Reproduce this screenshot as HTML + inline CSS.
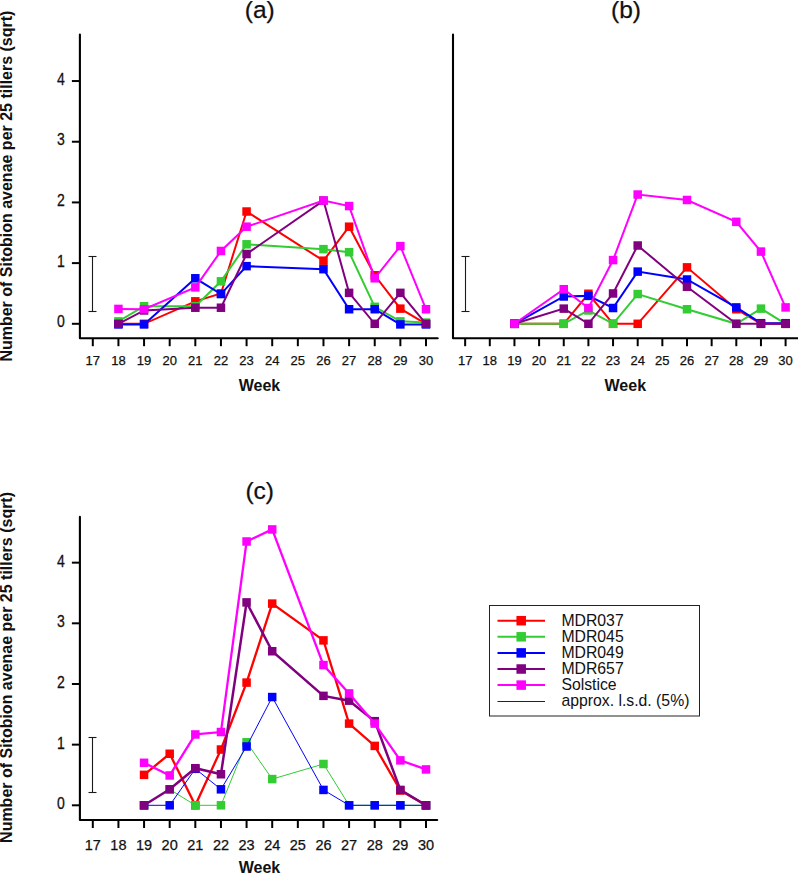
<!DOCTYPE html>
<html><head><meta charset="utf-8"><style>
html,body{margin:0;padding:0;background:#fff;width:798px;height:873px;overflow:hidden}
svg{display:block}
text{font-family:"Liberation Sans", sans-serif;fill:#111}
.tk,.tk2,.yt,.ti{stroke:#111;stroke-width:0.25px}
.tk{font-size:13px;text-anchor:middle}
.tk2{font-size:14.5px;text-anchor:middle}
.yt{font-size:14px;text-anchor:end}
.ti{font-size:24.5px;text-anchor:middle}
.wk{font-size:16px;font-weight:bold;text-anchor:middle}
.yl{font-size:16px;font-weight:bold;text-anchor:middle}
.lg{font-size:15.8px}
</style></head><body>
<svg width="798" height="873" viewBox="0 0 798 873">
<path d="M79.9,34.5 L79.9,338.2 L437.7,338.2" fill="none" stroke="#000" stroke-width="2.1" stroke-linejoin="round" stroke-linecap="round"/>
<line x1="92.80" y1="338.2" x2="92.80" y2="346.2" stroke="#000" stroke-width="2"/>
<text x="92.80" y="365.0" class="tk">17</text>
<line x1="118.43" y1="338.2" x2="118.43" y2="346.2" stroke="#000" stroke-width="2"/>
<text x="118.43" y="365.0" class="tk">18</text>
<line x1="144.06" y1="338.2" x2="144.06" y2="346.2" stroke="#000" stroke-width="2"/>
<text x="144.06" y="365.0" class="tk">19</text>
<line x1="169.69" y1="338.2" x2="169.69" y2="346.2" stroke="#000" stroke-width="2"/>
<text x="169.69" y="365.0" class="tk">20</text>
<line x1="195.32" y1="338.2" x2="195.32" y2="346.2" stroke="#000" stroke-width="2"/>
<text x="195.32" y="365.0" class="tk">21</text>
<line x1="220.95" y1="338.2" x2="220.95" y2="346.2" stroke="#000" stroke-width="2"/>
<text x="220.95" y="365.0" class="tk">22</text>
<line x1="246.58" y1="338.2" x2="246.58" y2="346.2" stroke="#000" stroke-width="2"/>
<text x="246.58" y="365.0" class="tk">23</text>
<line x1="272.21" y1="338.2" x2="272.21" y2="346.2" stroke="#000" stroke-width="2"/>
<text x="272.21" y="365.0" class="tk">24</text>
<line x1="297.84" y1="338.2" x2="297.84" y2="346.2" stroke="#000" stroke-width="2"/>
<text x="297.84" y="365.0" class="tk">25</text>
<line x1="323.47" y1="338.2" x2="323.47" y2="346.2" stroke="#000" stroke-width="2"/>
<text x="323.47" y="365.0" class="tk">26</text>
<line x1="349.10" y1="338.2" x2="349.10" y2="346.2" stroke="#000" stroke-width="2"/>
<text x="349.10" y="365.0" class="tk">27</text>
<line x1="374.73" y1="338.2" x2="374.73" y2="346.2" stroke="#000" stroke-width="2"/>
<text x="374.73" y="365.0" class="tk">28</text>
<line x1="400.36" y1="338.2" x2="400.36" y2="346.2" stroke="#000" stroke-width="2"/>
<text x="400.36" y="365.0" class="tk">29</text>
<line x1="425.99" y1="338.2" x2="425.99" y2="346.2" stroke="#000" stroke-width="2"/>
<text x="425.99" y="365.0" class="tk">30</text>
<line x1="71.9" y1="323.80" x2="79.9" y2="323.80" stroke="#000" stroke-width="2"/>
<text transform="translate(64.9,327.40) scale(1,1.15)" class="yt">0</text>
<line x1="71.9" y1="263.11" x2="79.9" y2="263.11" stroke="#000" stroke-width="2"/>
<text transform="translate(64.9,266.71) scale(1,1.15)" class="yt">1</text>
<line x1="71.9" y1="202.42" x2="79.9" y2="202.42" stroke="#000" stroke-width="2"/>
<text transform="translate(64.9,206.02) scale(1,1.15)" class="yt">2</text>
<line x1="71.9" y1="141.73" x2="79.9" y2="141.73" stroke="#000" stroke-width="2"/>
<text transform="translate(64.9,145.33) scale(1,1.15)" class="yt">3</text>
<line x1="71.9" y1="81.04" x2="79.9" y2="81.04" stroke="#000" stroke-width="2"/>
<text transform="translate(64.9,84.64) scale(1,1.15)" class="yt">4</text>
<g stroke="#1a1a1a" stroke-width="1.1"><line x1="92.50" y1="256.50" x2="92.50" y2="311.50"/><line x1="88.50" y1="256.50" x2="96.50" y2="256.50"/><line x1="88.50" y1="311.50" x2="96.50" y2="311.50"/></g>
<polyline points="118.43,323.80 144.06,323.80 195.32,301.34 220.95,293.46 246.58,211.52 323.47,260.68 349.10,226.70 374.73,275.25 400.36,308.63 425.99,323.80" fill="none" stroke="#ff0000" stroke-width="2" stroke-linejoin="miter"/>
<rect x="114.18" y="319.55" width="8.5" height="8.5" fill="#ff0000"/>
<rect x="139.81" y="319.55" width="8.5" height="8.5" fill="#ff0000"/>
<rect x="191.07" y="297.09" width="8.5" height="8.5" fill="#ff0000"/>
<rect x="216.70" y="289.21" width="8.5" height="8.5" fill="#ff0000"/>
<rect x="242.33" y="207.27" width="8.5" height="8.5" fill="#ff0000"/>
<rect x="319.22" y="256.43" width="8.5" height="8.5" fill="#ff0000"/>
<rect x="344.85" y="222.45" width="8.5" height="8.5" fill="#ff0000"/>
<rect x="370.48" y="271.00" width="8.5" height="8.5" fill="#ff0000"/>
<rect x="396.11" y="304.38" width="8.5" height="8.5" fill="#ff0000"/>
<rect x="421.74" y="319.55" width="8.5" height="8.5" fill="#ff0000"/>
<polyline points="118.43,321.37 144.06,306.20 195.32,306.20 220.95,281.32 246.58,244.30 323.47,249.15 349.10,252.19 374.73,306.81 400.36,321.37 425.99,322.59" fill="none" stroke="#33cc33" stroke-width="2" stroke-linejoin="miter"/>
<rect x="114.18" y="317.12" width="8.5" height="8.5" fill="#33cc33"/>
<rect x="139.81" y="301.95" width="8.5" height="8.5" fill="#33cc33"/>
<rect x="191.07" y="301.95" width="8.5" height="8.5" fill="#33cc33"/>
<rect x="216.70" y="277.07" width="8.5" height="8.5" fill="#33cc33"/>
<rect x="242.33" y="240.05" width="8.5" height="8.5" fill="#33cc33"/>
<rect x="319.22" y="244.90" width="8.5" height="8.5" fill="#33cc33"/>
<rect x="344.85" y="247.94" width="8.5" height="8.5" fill="#33cc33"/>
<rect x="370.48" y="302.56" width="8.5" height="8.5" fill="#33cc33"/>
<rect x="396.11" y="317.12" width="8.5" height="8.5" fill="#33cc33"/>
<rect x="421.74" y="318.34" width="8.5" height="8.5" fill="#33cc33"/>
<polyline points="118.43,324.41 144.06,324.41 195.32,278.28 220.95,294.06 246.58,266.14 323.47,269.18 349.10,309.23 374.73,309.23 400.36,324.41 425.99,324.41" fill="none" stroke="#0000ff" stroke-width="2" stroke-linejoin="miter"/>
<rect x="114.18" y="320.16" width="8.5" height="8.5" fill="#0000ff"/>
<rect x="139.81" y="320.16" width="8.5" height="8.5" fill="#0000ff"/>
<rect x="191.07" y="274.03" width="8.5" height="8.5" fill="#0000ff"/>
<rect x="216.70" y="289.81" width="8.5" height="8.5" fill="#0000ff"/>
<rect x="242.33" y="261.89" width="8.5" height="8.5" fill="#0000ff"/>
<rect x="319.22" y="264.93" width="8.5" height="8.5" fill="#0000ff"/>
<rect x="344.85" y="304.98" width="8.5" height="8.5" fill="#0000ff"/>
<rect x="370.48" y="304.98" width="8.5" height="8.5" fill="#0000ff"/>
<rect x="396.11" y="320.16" width="8.5" height="8.5" fill="#0000ff"/>
<rect x="421.74" y="320.16" width="8.5" height="8.5" fill="#0000ff"/>
<polyline points="118.43,323.80 144.06,310.45 195.32,307.72 220.95,307.72 246.58,254.01 323.47,200.60 349.10,292.85 374.73,323.80 400.36,292.85 425.99,323.80" fill="none" stroke="#800080" stroke-width="2" stroke-linejoin="miter"/>
<rect x="114.18" y="319.55" width="8.5" height="8.5" fill="#800080"/>
<rect x="139.81" y="306.20" width="8.5" height="8.5" fill="#800080"/>
<rect x="191.07" y="303.47" width="8.5" height="8.5" fill="#800080"/>
<rect x="216.70" y="303.47" width="8.5" height="8.5" fill="#800080"/>
<rect x="242.33" y="249.76" width="8.5" height="8.5" fill="#800080"/>
<rect x="319.22" y="196.35" width="8.5" height="8.5" fill="#800080"/>
<rect x="344.85" y="288.60" width="8.5" height="8.5" fill="#800080"/>
<rect x="370.48" y="319.55" width="8.5" height="8.5" fill="#800080"/>
<rect x="396.11" y="288.60" width="8.5" height="8.5" fill="#800080"/>
<rect x="421.74" y="319.55" width="8.5" height="8.5" fill="#800080"/>
<polyline points="118.43,308.93 144.06,309.23 195.32,287.39 220.95,250.97 246.58,226.70 323.47,200.60 349.10,206.06 374.73,278.28 400.36,246.12 425.99,309.23" fill="none" stroke="#ff00ff" stroke-width="2" stroke-linejoin="miter"/>
<rect x="114.18" y="304.68" width="8.5" height="8.5" fill="#ff00ff"/>
<rect x="139.81" y="304.98" width="8.5" height="8.5" fill="#ff00ff"/>
<rect x="191.07" y="283.14" width="8.5" height="8.5" fill="#ff00ff"/>
<rect x="216.70" y="246.72" width="8.5" height="8.5" fill="#ff00ff"/>
<rect x="242.33" y="222.45" width="8.5" height="8.5" fill="#ff00ff"/>
<rect x="319.22" y="196.35" width="8.5" height="8.5" fill="#ff00ff"/>
<rect x="344.85" y="201.81" width="8.5" height="8.5" fill="#ff00ff"/>
<rect x="370.48" y="274.03" width="8.5" height="8.5" fill="#ff00ff"/>
<rect x="396.11" y="241.87" width="8.5" height="8.5" fill="#ff00ff"/>
<rect x="421.74" y="304.98" width="8.5" height="8.5" fill="#ff00ff"/>
<path d="M453,34.5 L453,338.2 L798,338.2" fill="none" stroke="#000" stroke-width="2.1" stroke-linejoin="round" stroke-linecap="round"/>
<line x1="465.15" y1="338.2" x2="465.15" y2="346.2" stroke="#000" stroke-width="2"/>
<text x="465.15" y="365.0" class="tk">17</text>
<line x1="489.80" y1="338.2" x2="489.80" y2="346.2" stroke="#000" stroke-width="2"/>
<text x="489.80" y="365.0" class="tk">18</text>
<line x1="514.45" y1="338.2" x2="514.45" y2="346.2" stroke="#000" stroke-width="2"/>
<text x="514.45" y="365.0" class="tk">19</text>
<line x1="539.10" y1="338.2" x2="539.10" y2="346.2" stroke="#000" stroke-width="2"/>
<text x="539.10" y="365.0" class="tk">20</text>
<line x1="563.75" y1="338.2" x2="563.75" y2="346.2" stroke="#000" stroke-width="2"/>
<text x="563.75" y="365.0" class="tk">21</text>
<line x1="588.40" y1="338.2" x2="588.40" y2="346.2" stroke="#000" stroke-width="2"/>
<text x="588.40" y="365.0" class="tk">22</text>
<line x1="613.05" y1="338.2" x2="613.05" y2="346.2" stroke="#000" stroke-width="2"/>
<text x="613.05" y="365.0" class="tk">23</text>
<line x1="637.70" y1="338.2" x2="637.70" y2="346.2" stroke="#000" stroke-width="2"/>
<text x="637.70" y="365.0" class="tk">24</text>
<line x1="662.35" y1="338.2" x2="662.35" y2="346.2" stroke="#000" stroke-width="2"/>
<text x="662.35" y="365.0" class="tk">25</text>
<line x1="687.00" y1="338.2" x2="687.00" y2="346.2" stroke="#000" stroke-width="2"/>
<text x="687.00" y="365.0" class="tk">26</text>
<line x1="711.65" y1="338.2" x2="711.65" y2="346.2" stroke="#000" stroke-width="2"/>
<text x="711.65" y="365.0" class="tk">27</text>
<line x1="736.30" y1="338.2" x2="736.30" y2="346.2" stroke="#000" stroke-width="2"/>
<text x="736.30" y="365.0" class="tk">28</text>
<line x1="760.95" y1="338.2" x2="760.95" y2="346.2" stroke="#000" stroke-width="2"/>
<text x="760.95" y="365.0" class="tk">29</text>
<line x1="785.60" y1="338.2" x2="785.60" y2="346.2" stroke="#000" stroke-width="2"/>
<text x="785.60" y="365.0" class="tk">30</text>
<g stroke="#1a1a1a" stroke-width="1.1"><line x1="465.50" y1="256.50" x2="465.50" y2="311.50"/><line x1="461.50" y1="256.50" x2="469.50" y2="256.50"/><line x1="461.50" y1="311.50" x2="469.50" y2="311.50"/></g>
<polyline points="514.45,323.80 563.75,323.80 588.40,293.76 613.05,323.80 637.70,323.80 687.00,267.36 736.30,309.23 760.95,323.80 785.60,323.80" fill="none" stroke="#ff0000" stroke-width="2" stroke-linejoin="miter"/>
<rect x="510.20" y="319.55" width="8.5" height="8.5" fill="#ff0000"/>
<rect x="559.50" y="319.55" width="8.5" height="8.5" fill="#ff0000"/>
<rect x="584.15" y="289.51" width="8.5" height="8.5" fill="#ff0000"/>
<rect x="608.80" y="319.55" width="8.5" height="8.5" fill="#ff0000"/>
<rect x="633.45" y="319.55" width="8.5" height="8.5" fill="#ff0000"/>
<rect x="682.75" y="263.11" width="8.5" height="8.5" fill="#ff0000"/>
<rect x="732.05" y="304.98" width="8.5" height="8.5" fill="#ff0000"/>
<rect x="756.70" y="319.55" width="8.5" height="8.5" fill="#ff0000"/>
<rect x="781.35" y="319.55" width="8.5" height="8.5" fill="#ff0000"/>
<polyline points="514.45,323.80 563.75,323.80 588.40,310.45 613.05,323.80 637.70,294.06 687.00,309.23 736.30,323.80 760.95,308.63 785.60,323.80" fill="none" stroke="#33cc33" stroke-width="2" stroke-linejoin="miter"/>
<rect x="510.20" y="319.55" width="8.5" height="8.5" fill="#33cc33"/>
<rect x="559.50" y="319.55" width="8.5" height="8.5" fill="#33cc33"/>
<rect x="584.15" y="306.20" width="8.5" height="8.5" fill="#33cc33"/>
<rect x="608.80" y="319.55" width="8.5" height="8.5" fill="#33cc33"/>
<rect x="633.45" y="289.81" width="8.5" height="8.5" fill="#33cc33"/>
<rect x="682.75" y="304.98" width="8.5" height="8.5" fill="#33cc33"/>
<rect x="732.05" y="319.55" width="8.5" height="8.5" fill="#33cc33"/>
<rect x="756.70" y="304.38" width="8.5" height="8.5" fill="#33cc33"/>
<rect x="781.35" y="319.55" width="8.5" height="8.5" fill="#33cc33"/>
<polyline points="514.45,323.80 563.75,296.49 588.40,295.88 613.05,308.02 637.70,271.61 687.00,279.50 736.30,307.41 760.95,323.19 785.60,323.19" fill="none" stroke="#0000ff" stroke-width="2" stroke-linejoin="miter"/>
<rect x="510.20" y="319.55" width="8.5" height="8.5" fill="#0000ff"/>
<rect x="559.50" y="292.24" width="8.5" height="8.5" fill="#0000ff"/>
<rect x="584.15" y="291.63" width="8.5" height="8.5" fill="#0000ff"/>
<rect x="608.80" y="303.77" width="8.5" height="8.5" fill="#0000ff"/>
<rect x="633.45" y="267.36" width="8.5" height="8.5" fill="#0000ff"/>
<rect x="682.75" y="275.25" width="8.5" height="8.5" fill="#0000ff"/>
<rect x="732.05" y="303.16" width="8.5" height="8.5" fill="#0000ff"/>
<rect x="756.70" y="318.94" width="8.5" height="8.5" fill="#0000ff"/>
<rect x="781.35" y="318.94" width="8.5" height="8.5" fill="#0000ff"/>
<polyline points="514.45,323.80 563.75,308.63 588.40,323.80 613.05,293.46 637.70,245.51 687.00,286.78 736.30,323.80 760.95,323.80 785.60,323.80" fill="none" stroke="#800080" stroke-width="2" stroke-linejoin="miter"/>
<rect x="510.20" y="319.55" width="8.5" height="8.5" fill="#800080"/>
<rect x="559.50" y="304.38" width="8.5" height="8.5" fill="#800080"/>
<rect x="584.15" y="319.55" width="8.5" height="8.5" fill="#800080"/>
<rect x="608.80" y="289.21" width="8.5" height="8.5" fill="#800080"/>
<rect x="633.45" y="241.26" width="8.5" height="8.5" fill="#800080"/>
<rect x="682.75" y="282.53" width="8.5" height="8.5" fill="#800080"/>
<rect x="732.05" y="319.55" width="8.5" height="8.5" fill="#800080"/>
<rect x="756.70" y="319.55" width="8.5" height="8.5" fill="#800080"/>
<rect x="781.35" y="319.55" width="8.5" height="8.5" fill="#800080"/>
<polyline points="514.45,323.80 563.75,289.21 588.40,308.02 613.05,260.08 637.70,194.53 687.00,199.99 736.30,221.84 760.95,251.58 785.60,307.41" fill="none" stroke="#ff00ff" stroke-width="2" stroke-linejoin="miter"/>
<rect x="510.20" y="319.55" width="8.5" height="8.5" fill="#ff00ff"/>
<rect x="559.50" y="284.96" width="8.5" height="8.5" fill="#ff00ff"/>
<rect x="584.15" y="303.77" width="8.5" height="8.5" fill="#ff00ff"/>
<rect x="608.80" y="255.83" width="8.5" height="8.5" fill="#ff00ff"/>
<rect x="633.45" y="190.28" width="8.5" height="8.5" fill="#ff00ff"/>
<rect x="682.75" y="195.74" width="8.5" height="8.5" fill="#ff00ff"/>
<rect x="732.05" y="217.59" width="8.5" height="8.5" fill="#ff00ff"/>
<rect x="756.70" y="247.33" width="8.5" height="8.5" fill="#ff00ff"/>
<rect x="781.35" y="303.16" width="8.5" height="8.5" fill="#ff00ff"/>
<path d="M79.9,516.9 L79.9,820 L437.2,820" fill="none" stroke="#000" stroke-width="2.1" stroke-linejoin="round" stroke-linecap="round"/>
<line x1="92.80" y1="820" x2="92.80" y2="828" stroke="#000" stroke-width="2"/>
<text x="92.80" y="849.6" class="tk2">17</text>
<line x1="118.43" y1="820" x2="118.43" y2="828" stroke="#000" stroke-width="2"/>
<text x="118.43" y="849.6" class="tk2">18</text>
<line x1="144.06" y1="820" x2="144.06" y2="828" stroke="#000" stroke-width="2"/>
<text x="144.06" y="849.6" class="tk2">19</text>
<line x1="169.69" y1="820" x2="169.69" y2="828" stroke="#000" stroke-width="2"/>
<text x="169.69" y="849.6" class="tk2">20</text>
<line x1="195.32" y1="820" x2="195.32" y2="828" stroke="#000" stroke-width="2"/>
<text x="195.32" y="849.6" class="tk2">21</text>
<line x1="220.95" y1="820" x2="220.95" y2="828" stroke="#000" stroke-width="2"/>
<text x="220.95" y="849.6" class="tk2">22</text>
<line x1="246.58" y1="820" x2="246.58" y2="828" stroke="#000" stroke-width="2"/>
<text x="246.58" y="849.6" class="tk2">23</text>
<line x1="272.21" y1="820" x2="272.21" y2="828" stroke="#000" stroke-width="2"/>
<text x="272.21" y="849.6" class="tk2">24</text>
<line x1="297.84" y1="820" x2="297.84" y2="828" stroke="#000" stroke-width="2"/>
<text x="297.84" y="849.6" class="tk2">25</text>
<line x1="323.47" y1="820" x2="323.47" y2="828" stroke="#000" stroke-width="2"/>
<text x="323.47" y="849.6" class="tk2">26</text>
<line x1="349.10" y1="820" x2="349.10" y2="828" stroke="#000" stroke-width="2"/>
<text x="349.10" y="849.6" class="tk2">27</text>
<line x1="374.73" y1="820" x2="374.73" y2="828" stroke="#000" stroke-width="2"/>
<text x="374.73" y="849.6" class="tk2">28</text>
<line x1="400.36" y1="820" x2="400.36" y2="828" stroke="#000" stroke-width="2"/>
<text x="400.36" y="849.6" class="tk2">29</text>
<line x1="425.99" y1="820" x2="425.99" y2="828" stroke="#000" stroke-width="2"/>
<text x="425.99" y="849.6" class="tk2">30</text>
<line x1="71.9" y1="805.30" x2="79.9" y2="805.30" stroke="#000" stroke-width="2"/>
<text transform="translate(64.9,809.30) scale(1,1.15)" class="yt">0</text>
<line x1="71.9" y1="744.64" x2="79.9" y2="744.64" stroke="#000" stroke-width="2"/>
<text transform="translate(64.9,748.64) scale(1,1.15)" class="yt">1</text>
<line x1="71.9" y1="683.98" x2="79.9" y2="683.98" stroke="#000" stroke-width="2"/>
<text transform="translate(64.9,687.98) scale(1,1.15)" class="yt">2</text>
<line x1="71.9" y1="623.32" x2="79.9" y2="623.32" stroke="#000" stroke-width="2"/>
<text transform="translate(64.9,627.32) scale(1,1.15)" class="yt">3</text>
<line x1="71.9" y1="562.66" x2="79.9" y2="562.66" stroke="#000" stroke-width="2"/>
<text transform="translate(64.9,566.66) scale(1,1.15)" class="yt">4</text>
<g stroke="#1a1a1a" stroke-width="1.1"><line x1="92.50" y1="737.50" x2="92.50" y2="792.50"/><line x1="88.50" y1="737.50" x2="96.50" y2="737.50"/><line x1="88.50" y1="792.50" x2="96.50" y2="792.50"/></g>
<polyline points="144.06,774.85 169.69,753.75 195.32,805.30 220.95,749.52 246.58,682.59 272.21,603.60 323.47,640.38 349.10,723.60 374.73,745.91 400.36,790.53 425.99,805.30" fill="none" stroke="#ff0000" stroke-width="2.3" stroke-linejoin="miter"/>
<rect x="139.81" y="770.60" width="8.5" height="8.5" fill="#ff0000"/>
<rect x="165.44" y="749.50" width="8.5" height="8.5" fill="#ff0000"/>
<rect x="191.07" y="801.05" width="8.5" height="8.5" fill="#ff0000"/>
<rect x="216.70" y="745.27" width="8.5" height="8.5" fill="#ff0000"/>
<rect x="242.33" y="678.34" width="8.5" height="8.5" fill="#ff0000"/>
<rect x="267.96" y="599.35" width="8.5" height="8.5" fill="#ff0000"/>
<rect x="319.22" y="636.13" width="8.5" height="8.5" fill="#ff0000"/>
<rect x="344.85" y="719.35" width="8.5" height="8.5" fill="#ff0000"/>
<rect x="370.48" y="741.66" width="8.5" height="8.5" fill="#ff0000"/>
<rect x="396.11" y="786.28" width="8.5" height="8.5" fill="#ff0000"/>
<rect x="421.74" y="801.05" width="8.5" height="8.5" fill="#ff0000"/>
<polyline points="144.06,805.30 169.69,789.32 195.32,805.30 220.95,805.30 246.58,742.29 272.21,779.07 323.47,764.00 349.10,805.30 374.73,805.30 400.36,805.30 425.99,805.30" fill="none" stroke="#33cc33" stroke-width="1" stroke-linejoin="miter"/>
<rect x="139.81" y="801.05" width="8.5" height="8.5" fill="#33cc33"/>
<rect x="165.44" y="785.07" width="8.5" height="8.5" fill="#33cc33"/>
<rect x="191.07" y="801.05" width="8.5" height="8.5" fill="#33cc33"/>
<rect x="216.70" y="801.05" width="8.5" height="8.5" fill="#33cc33"/>
<rect x="242.33" y="738.04" width="8.5" height="8.5" fill="#33cc33"/>
<rect x="267.96" y="774.82" width="8.5" height="8.5" fill="#33cc33"/>
<rect x="319.22" y="759.75" width="8.5" height="8.5" fill="#33cc33"/>
<rect x="344.85" y="801.05" width="8.5" height="8.5" fill="#33cc33"/>
<rect x="370.48" y="801.05" width="8.5" height="8.5" fill="#33cc33"/>
<rect x="396.11" y="801.05" width="8.5" height="8.5" fill="#33cc33"/>
<rect x="421.74" y="801.05" width="8.5" height="8.5" fill="#33cc33"/>
<polyline points="144.06,805.30 169.69,805.30 195.32,768.82 220.95,789.32 246.58,746.51 272.21,697.06 323.47,789.92 349.10,805.30 374.73,805.30 400.36,805.30 425.99,805.30" fill="none" stroke="#0000ff" stroke-width="1" stroke-linejoin="miter"/>
<rect x="139.81" y="801.05" width="8.5" height="8.5" fill="#0000ff"/>
<rect x="165.44" y="801.05" width="8.5" height="8.5" fill="#0000ff"/>
<rect x="191.07" y="764.57" width="8.5" height="8.5" fill="#0000ff"/>
<rect x="216.70" y="785.07" width="8.5" height="8.5" fill="#0000ff"/>
<rect x="242.33" y="742.26" width="8.5" height="8.5" fill="#0000ff"/>
<rect x="267.96" y="692.81" width="8.5" height="8.5" fill="#0000ff"/>
<rect x="319.22" y="785.67" width="8.5" height="8.5" fill="#0000ff"/>
<rect x="344.85" y="801.05" width="8.5" height="8.5" fill="#0000ff"/>
<rect x="370.48" y="801.05" width="8.5" height="8.5" fill="#0000ff"/>
<rect x="396.11" y="801.05" width="8.5" height="8.5" fill="#0000ff"/>
<rect x="421.74" y="801.05" width="8.5" height="8.5" fill="#0000ff"/>
<polyline points="144.06,805.30 169.69,789.32 195.32,768.22 220.95,774.25 246.58,602.39 272.21,651.24 323.47,695.86 349.10,700.68 374.73,721.18 400.36,789.92 425.99,805.30" fill="none" stroke="#800080" stroke-width="2.5" stroke-linejoin="miter"/>
<rect x="139.81" y="801.05" width="8.5" height="8.5" fill="#800080"/>
<rect x="165.44" y="785.07" width="8.5" height="8.5" fill="#800080"/>
<rect x="191.07" y="763.97" width="8.5" height="8.5" fill="#800080"/>
<rect x="216.70" y="770.00" width="8.5" height="8.5" fill="#800080"/>
<rect x="242.33" y="598.14" width="8.5" height="8.5" fill="#800080"/>
<rect x="267.96" y="646.99" width="8.5" height="8.5" fill="#800080"/>
<rect x="319.22" y="691.61" width="8.5" height="8.5" fill="#800080"/>
<rect x="344.85" y="696.43" width="8.5" height="8.5" fill="#800080"/>
<rect x="370.48" y="716.93" width="8.5" height="8.5" fill="#800080"/>
<rect x="396.11" y="785.67" width="8.5" height="8.5" fill="#800080"/>
<rect x="421.74" y="801.05" width="8.5" height="8.5" fill="#800080"/>
<polyline points="144.06,762.79 169.69,775.45 195.32,734.45 220.95,732.04 246.58,541.49 272.21,529.43 323.47,665.10 349.10,693.44 374.73,723.60 400.36,760.38 425.99,769.42" fill="none" stroke="#ff00ff" stroke-width="2.3" stroke-linejoin="miter"/>
<rect x="139.81" y="758.54" width="8.5" height="8.5" fill="#ff00ff"/>
<rect x="165.44" y="771.20" width="8.5" height="8.5" fill="#ff00ff"/>
<rect x="191.07" y="730.20" width="8.5" height="8.5" fill="#ff00ff"/>
<rect x="216.70" y="727.79" width="8.5" height="8.5" fill="#ff00ff"/>
<rect x="242.33" y="537.24" width="8.5" height="8.5" fill="#ff00ff"/>
<rect x="267.96" y="525.18" width="8.5" height="8.5" fill="#ff00ff"/>
<rect x="319.22" y="660.85" width="8.5" height="8.5" fill="#ff00ff"/>
<rect x="344.85" y="689.19" width="8.5" height="8.5" fill="#ff00ff"/>
<rect x="370.48" y="719.35" width="8.5" height="8.5" fill="#ff00ff"/>
<rect x="396.11" y="756.13" width="8.5" height="8.5" fill="#ff00ff"/>
<rect x="421.74" y="765.17" width="8.5" height="8.5" fill="#ff00ff"/>
<text x="259.8" y="17.6" class="ti">(a)</text>
<text x="626" y="17.6" class="ti">(b)</text>
<text x="259.7" y="499" class="ti">(c)</text>
<text x="259.5" y="390.7" class="wk">Week</text>
<text x="625.3" y="390.7" class="wk">Week</text>
<text x="259.5" y="872.5" class="wk">Week</text>
<text transform="translate(12,186.1) rotate(-90) scale(1,1.08)" class="yl">Number of Sitobion avenae per 25 tillers (sqrt)</text>
<text transform="translate(12,667.45) rotate(-90) scale(1,1.08)" class="yl">Number of Sitobion avenae per 25 tillers (sqrt)</text>
<rect x="489.5" y="605.5" width="210" height="110.5" fill="none" stroke="#222" stroke-width="1"/>
<line x1="497.5" y1="620.70" x2="545" y2="620.70" stroke="#ff0000" stroke-width="2"/>
<rect x="516.45" y="615.95" width="9.5" height="9.5" fill="#ff0000"/>
<text transform="translate(561.4,625.50) scale(1,1.02)" class="lg">MDR037</text>
<line x1="497.5" y1="636.80" x2="545" y2="636.80" stroke="#33cc33" stroke-width="2"/>
<rect x="516.45" y="632.05" width="9.5" height="9.5" fill="#33cc33"/>
<text transform="translate(561.4,641.60) scale(1,1.02)" class="lg">MDR045</text>
<line x1="497.5" y1="652.90" x2="545" y2="652.90" stroke="#0000ff" stroke-width="2"/>
<rect x="516.45" y="648.15" width="9.5" height="9.5" fill="#0000ff"/>
<text transform="translate(561.4,657.70) scale(1,1.02)" class="lg">MDR049</text>
<line x1="497.5" y1="669.00" x2="545" y2="669.00" stroke="#800080" stroke-width="2"/>
<rect x="516.45" y="664.25" width="9.5" height="9.5" fill="#800080"/>
<text transform="translate(561.4,673.80) scale(1,1.02)" class="lg">MDR657</text>
<line x1="497.5" y1="685.10" x2="545" y2="685.10" stroke="#ff00ff" stroke-width="2"/>
<rect x="516.45" y="680.35" width="9.5" height="9.5" fill="#ff00ff"/>
<text transform="translate(561.4,689.90) scale(1,1.02)" class="lg">Solstice</text>
<line x1="497.5" y1="701.5" x2="545" y2="701.5" stroke="#222" stroke-width="1"/>
<text transform="translate(561.4,706.00) scale(1,1.02)" class="lg">approx. l.s.d. (5%)</text>
</svg>
</body></html>
